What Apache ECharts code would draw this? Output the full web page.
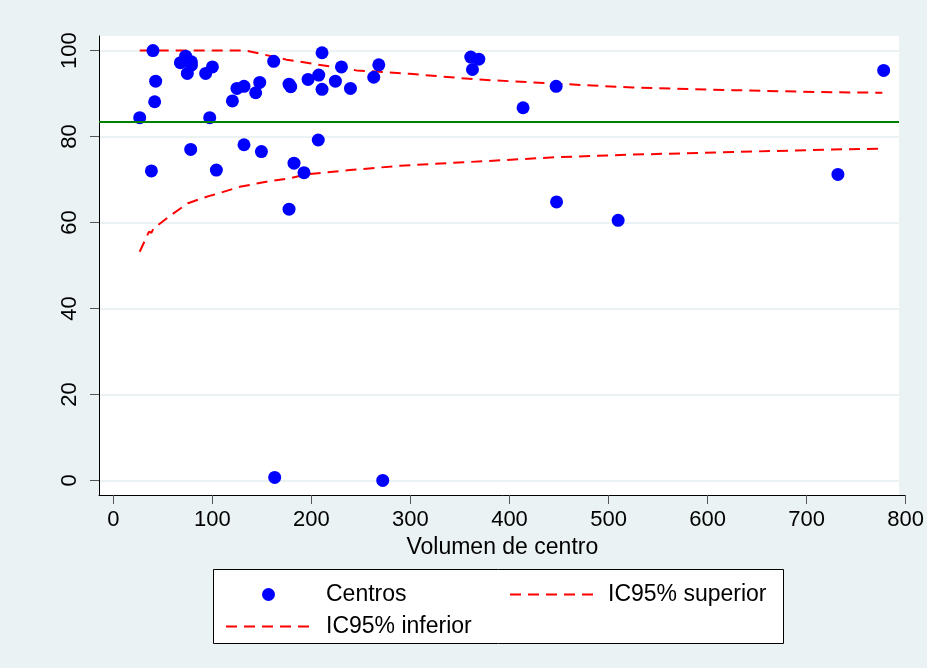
<!DOCTYPE html>
<html>
<head>
<meta charset="utf-8">
<title>Volumen de centro</title>
<script src="https://cdn.jsdelivr.net/npm/echarts@6/dist/echarts.min.js"></script>
<style>
  html, body { margin: 0; padding: 0; background: #EAF2F3; }
  #main { width: 927px; height: 668px; }
</style>
</head>
<body>
<div id="main"></div>
<script>
// centros (volumen, %)
var centrosX = [26.6, 40.0, 42.7, 41.7, 38.4, 73.0, 78.8, 67.7, 74.7, 78.8,
  97.3, 93.2, 100.0, 120.2, 124.8, 131.9, 143.7, 147.8, 161.9, 177.4,
  179.1, 196.6, 207.4, 210.7, 210.7, 224.2, 230.3, 239.4, 262.9, 268.0,
  360.9, 369.0, 362.6, 413.7, 447.1, 777.8, 78.1, 104.0, 131.9, 149.5,
  182.4, 192.5, 206.9, 177.4, 731.6, 447.5, 509.7, 162.9, 272.0];
var centrosY = [84.4, 100, 92.9, 88.1, 72.0, 98.7, 97.4, 97.2, 94.7, 96.6,
  84.4, 94.7, 96.2, 88.3, 91.2, 91.7, 90.2, 92.6, 97.5, 92.2,
  91.6, 93.3, 94.3, 99.5, 91.0, 92.9, 96.2, 91.2, 93.8, 96.7,
  98.5, 98.0, 95.6, 86.7, 91.7, 95.4, 77.0, 72.2, 78.1, 76.5,
  73.8, 71.6, 79.2, 63.1, 71.2, 64.8, 60.5, 0.7, 0.0];

// IC95% superior
var supX = [26.6, 134.3, 147.8, 174.7, 205.1, 245.5, 299.3, 366.7, 447.5, 524.5, 625.6, 726.6, 776.5];
var supY = [100, 100, 99.3, 97.9, 96.8, 95.4, 94.6, 93.3, 92.3, 91.4, 90.8, 90.3, 90.2];

// IC95% inferior
var infX = [26.6, 36.0, 38.4, 40.5, 58.6, 75.4, 97.0, 100.6, 127.6, 154.5, 178.1, 195.0, 238.7, 289.2, 447.5, 524.8, 625.9, 726.9, 777.4];
var infY = [53.2, 57.9, 57.6, 58.6, 61.8, 64.5, 66.2, 66.4, 68.3, 69.5, 70.3, 71.2, 72.2, 73.2, 75.2, 75.8, 76.4, 77.0, 77.2];

var media = 83.4;

var xTicks = [0, 100, 200, 300, 400, 500, 600, 700, 800];
var yTicks = [0, 20, 40, 60, 80, 100];

function pairs(xs, ys) {
  var arr = [];
  for (let i = 0; i < xs.length; i++) {
    arr.push([xs[i], ys[i]]);
  }
  return arr;
}

var bg = '#EAF2F3';
var font = 'Liberation Sans, Arial, sans-serif';

var chartDom = document.getElementById('main');
var myChart = echarts.init(chartDom, null, { renderer: 'canvas' });
var option;

option = {
  animation: false,
  backgroundColor: bg,
  grid: {
    left: 99, right: 21, top: 36, bottom: 173,
    show: true,
    backgroundColor: '#ffffff',
    borderWidth: 0
  },
  xAxis: {
    type: 'value',
    min: -14.5,
    max: 800,
    name: 'Volumen de centro',
    nameLocation: 'middle',
    nameGap: 40,
    nameTextStyle: { fontFamily: font, fontSize: 23, color: '#000' },
    axisLine: { show: true, onZero: false, lineStyle: { color: '#000', width: 1 } },
    axisTick: { show: true, length: 9, customValues: xTicks, lineStyle: { color: '#555' } },
    axisLabel: { customValues: xTicks, margin: 14, fontFamily: font, fontSize: 22, color: '#000' },
    splitLine: { show: false }
  },
  yAxis: {
    type: 'value',
    min: -3.4,
    max: 103.4,
    axisLine: { show: true, onZero: false, lineStyle: { color: '#000', width: 1 } },
    axisTick: { show: true, length: 9, customValues: yTicks, lineStyle: { color: '#555' } },
    axisLabel: { customValues: yTicks, rotate: 90, margin: 18, fontFamily: font, fontSize: 22, color: '#000' },
    splitLine: { show: true, lineStyle: { color: bg, width: 2 } }
  },
  legend: [
    {
      data: ['Centros'], left: 262, top: 583, padding: 0,
      itemWidth: 13, itemHeight: 13, z: 5,
      textStyle: { fontFamily: font, fontSize: 23, color: '#000', padding: [0, 0, 0, 46] }
    },
    {
      data: ['IC95% superior'], left: 509, top: 583, padding: 0,
      itemWidth: 86, itemHeight: 14, z: 5,
      itemStyle: { opacity: 0 },
      textStyle: { fontFamily: font, fontSize: 23, color: '#000', padding: [0, 0, 0, 7] }
    },
    {
      data: ['IC95% inferior'], left: 225, top: 615, padding: 0,
      itemWidth: 86, itemHeight: 14, z: 5,
      itemStyle: { opacity: 0 },
      textStyle: { fontFamily: font, fontSize: 23, color: '#000', padding: [0, 0, 0, 9] }
    }
  ],
  graphic: [
    // caja de la leyenda
    { type: 'rect', z: 1, shape: { x: 213.5, y: 569.5, width: 570, height: 74 },
      style: { fill: '#ffffff', stroke: '#000', lineWidth: 1 } },
    // borde derecho del area del grafico
    { type: 'rect', z: 100, shape: { x: 899, y: 30, width: 12, height: 465 },
      style: { fill: bg } }
  ],
  series: [
    {
      name: 'IC95% superior',
      type: 'line',
      data: pairs(supX, supY),
      symbol: 'none',
      lineStyle: { color: '#ff0000', width: 2, type: [11, 7] },
      itemStyle: { color: '#ff0000' },
      markLine: {
        silent: true,
        symbol: 'none',
        label: { show: false },
        lineStyle: { color: '#008000', width: 2, type: 'solid' },
        data: [{ yAxis: media }]
      }
    },
    {
      name: 'IC95% inferior',
      type: 'line',
      data: pairs(infX, infY),
      symbol: 'none',
      lineStyle: { color: '#ff0000', width: 2, type: [11, 7] },
      itemStyle: { color: '#ff0000' }
    },
    {
      name: 'Centros',
      type: 'scatter',
      data: pairs(centrosX, centrosY),
      symbol: 'circle',
      symbolSize: 13,
      itemStyle: { color: '#0000ff', opacity: 1 },
      z: 3
    }
  ]
};

option && myChart.setOption(option);
</script>
</body>
</html>
